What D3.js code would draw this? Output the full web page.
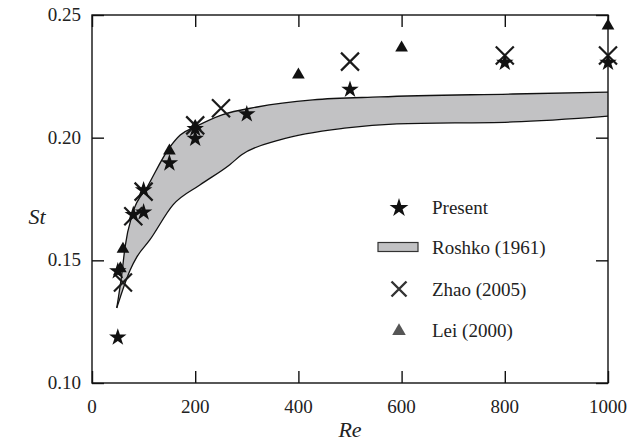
<!DOCTYPE html>
<html>
<head>
<meta charset="utf-8">
<script src="https://cdn.jsdelivr.net/npm/d3@7"></script>
<style>
  html, body { margin: 0; padding: 0; background: #fff; }
  svg { display: block; }
  text { font-family: "Liberation Serif", "Times New Roman", serif; fill: #222; }
</style>
</head>
<body>
<svg id="chart" width="629" height="442"></svg>
<script>
// Strouhal number vs Reynolds number for flow past a circular cylinder

// Present computations
const presentRe = [50, 50, 80, 100, 100, 150, 200, 200, 300, 500, 800, 1000];
const presentSt = [0.119, 0.146, 0.169, 0.170, 0.179, 0.190, 0.200, 0.204, 0.210, 0.220, 0.231, 0.231];

// Zhao (2005)
const zhaoRe = [60, 80, 100, 200, 250, 500, 800, 1000];
const zhaoSt = [0.141, 0.168, 0.178, 0.205, 0.212, 0.231, 0.2335, 0.2335];

// Lei (2000)
const leiRe = [55, 60, 150, 200, 400, 600, 1000];
const leiSt = [0.147, 0.155, 0.195, 0.205, 0.226, 0.237, 0.246];

// Roshko (1961) experimental band: upper and lower bounds
const roshkoUpperRe = [48, 58, 64, 79, 107, 151, 171, 200, 252, 320, 428, 558, 816, 1000];
const roshkoUpperSt = [0.1306, 0.1448, 0.1554, 0.1693, 0.1799, 0.1962, 0.2011, 0.2044, 0.2093, 0.2125, 0.2154, 0.2166, 0.2178, 0.2186];
const roshkoLowerRe = [48, 74, 87, 112, 157, 209, 267, 290, 364, 494, 591, 816, 1000];
const roshkoLowerSt = [0.1306, 0.1461, 0.1514, 0.1583, 0.1726, 0.1807, 0.1890, 0.1930, 0.1991, 0.2040, 0.2056, 0.2064, 0.2088];

// Axis ticks
const xTicks = [0, 200, 400, 600, 800, 1000];
const yTicks = [0.10, 0.15, 0.20, 0.25];

const legendLabels = ["Present", "Roshko (1961)", "Zhao (2005)", "Lei (2000)"];

const svg = d3.select("#chart");
const plot = { left: 92, right: 608, top: 15, bottom: 383 };

const x = d3.scaleLinear().domain([0, 1000]).range([plot.left, plot.right]);
const y = d3.scaleLinear().domain([0.10, 0.25]).range([plot.bottom, plot.top]);

const ink = "#111";
const bandFill = "#c2c2c4";

// Roshko band: upper edge forward, lower edge back, closed
const upper = roshkoUpperRe.map((r, i) => [r, roshkoUpperSt[i]]);
const lower = roshkoLowerRe.map((r, i) => [r, roshkoLowerSt[i]]);
const edge = d3.line().x(d => x(d[0])).y(d => y(d[1])).curve(d3.curveMonotoneX);

const bandD = edge(upper) + edge(lower.slice().reverse()).replace(/^M/, "L") + "Z";
svg.append("path").attr("d", bandD).attr("fill", bandFill).attr("stroke", "none");
svg.append("path").attr("d", edge(upper)).attr("fill", "none").attr("stroke", ink).attr("stroke-width", 1.3);
svg.append("path").attr("d", edge(lower)).attr("fill", "none").attr("stroke", ink).attr("stroke-width", 1.3);

// Frame with inward ticks on all four sides
svg.append("rect")
  .attr("x", plot.left).attr("y", plot.top)
  .attr("width", plot.right - plot.left).attr("height", plot.bottom - plot.top)
  .attr("fill", "none").attr("stroke", ink).attr("stroke-width", 1.4);

const tickLen = 12;
function styleAxis(g) {
  g.select(".domain").remove();
  g.selectAll(".tick line").attr("stroke", ink).attr("stroke-width", 1.4);
}
svg.append("g").attr("transform", `translate(0,${plot.bottom})`)
  .call(d3.axisBottom(x).tickValues(xTicks).tickSize(-tickLen).tickFormat("")).call(styleAxis);
svg.append("g").attr("transform", `translate(0,${plot.top})`)
  .call(d3.axisTop(x).tickValues(xTicks).tickSize(-tickLen).tickFormat("")).call(styleAxis);
svg.append("g").attr("transform", `translate(${plot.left},0)`)
  .call(d3.axisLeft(y).tickValues(yTicks).tickSize(-tickLen).tickFormat("")).call(styleAxis);
svg.append("g").attr("transform", `translate(${plot.right},0)`)
  .call(d3.axisRight(y).tickValues(yTicks).tickSize(-tickLen).tickFormat("")).call(styleAxis);

// Tick labels
svg.append("g").selectAll("text").data(xTicks).join("text")
  .attr("x", d => x(d)).attr("y", plot.bottom + 30)
  .attr("text-anchor", "middle").attr("font-size", 19)
  .text(d => d);
svg.append("g").selectAll("text").data(yTicks).join("text")
  .attr("x", plot.left - 11).attr("y", d => y(d) + 6)
  .attr("text-anchor", "end").attr("font-size", 19)
  .text(d => d3.format(".2f")(d));

// Axis titles
svg.append("text").attr("x", x(500)).attr("y", 437)
  .attr("text-anchor", "middle").attr("font-size", 22).attr("font-style", "italic").text("Re");
svg.append("text").attr("x", 37).attr("y", 224)
  .attr("text-anchor", "middle").attr("font-size", 22).attr("font-style", "italic").text("St");

// Marker helpers
const starPath = d3.symbol().type(d3.symbolStar).size(95);
const triPath = d3.symbol().type(d3.symbolTriangle).size(70);

function drawX(g, cx, cy, h, color, w) {
  g.append("path")
    .attr("d", `M${cx - h},${cy - h}L${cx + h},${cy + h}M${cx - h},${cy + h}L${cx + h},${cy - h}`)
    .attr("stroke", color).attr("stroke-width", w).attr("fill", "none");
}

// Lei triangles
svg.append("g").selectAll("path").data(leiRe.map((r, i) => [r, leiSt[i]])).join("path")
  .attr("d", triPath)
  .attr("transform", d => `translate(${x(d[0])},${y(d[1]) + 1})`)
  .attr("fill", ink);

// Zhao crosses
const zg = svg.append("g");
zhaoRe.forEach((r, i) => drawX(zg, x(r), y(zhaoSt[i]), 9, "#1a1a1a", 2.2));

// Present stars
svg.append("g").selectAll("path").data(presentRe.map((r, i) => [r, presentSt[i]])).join("path")
  .attr("d", starPath)
  .attr("transform", d => `translate(${x(d[0])},${y(d[1]) + 1})`)
  .attr("fill", ink);

// Legend
const lg = svg.append("g");
const legX = 399, textX = 432;
const rowsY = [207, 247, 289, 330];

lg.append("path").attr("d", d3.symbol().type(d3.symbolStar).size(110)())
  .attr("transform", `translate(${legX},${rowsY[0] + 1})`).attr("fill", ink);
lg.append("rect").attr("x", 378).attr("y", rowsY[1] - 4.5).attr("width", 40).attr("height", 9)
  .attr("fill", bandFill).attr("stroke", "#333").attr("stroke-width", 1.2);
drawX(lg, legX, rowsY[2], 7.5, "#333", 2.4);
lg.append("path").attr("d", d3.symbol().type(d3.symbolTriangle).size(80)())
  .attr("transform", `translate(${legX},${rowsY[3] + 1})`).attr("fill", "#555");

lg.selectAll("text").data(legendLabels).join("text")
  .attr("x", textX).attr("y", (d, i) => rowsY[i] + 7)
  .attr("font-size", 19)
  .text(d => d);
</script>
</body>
</html>
